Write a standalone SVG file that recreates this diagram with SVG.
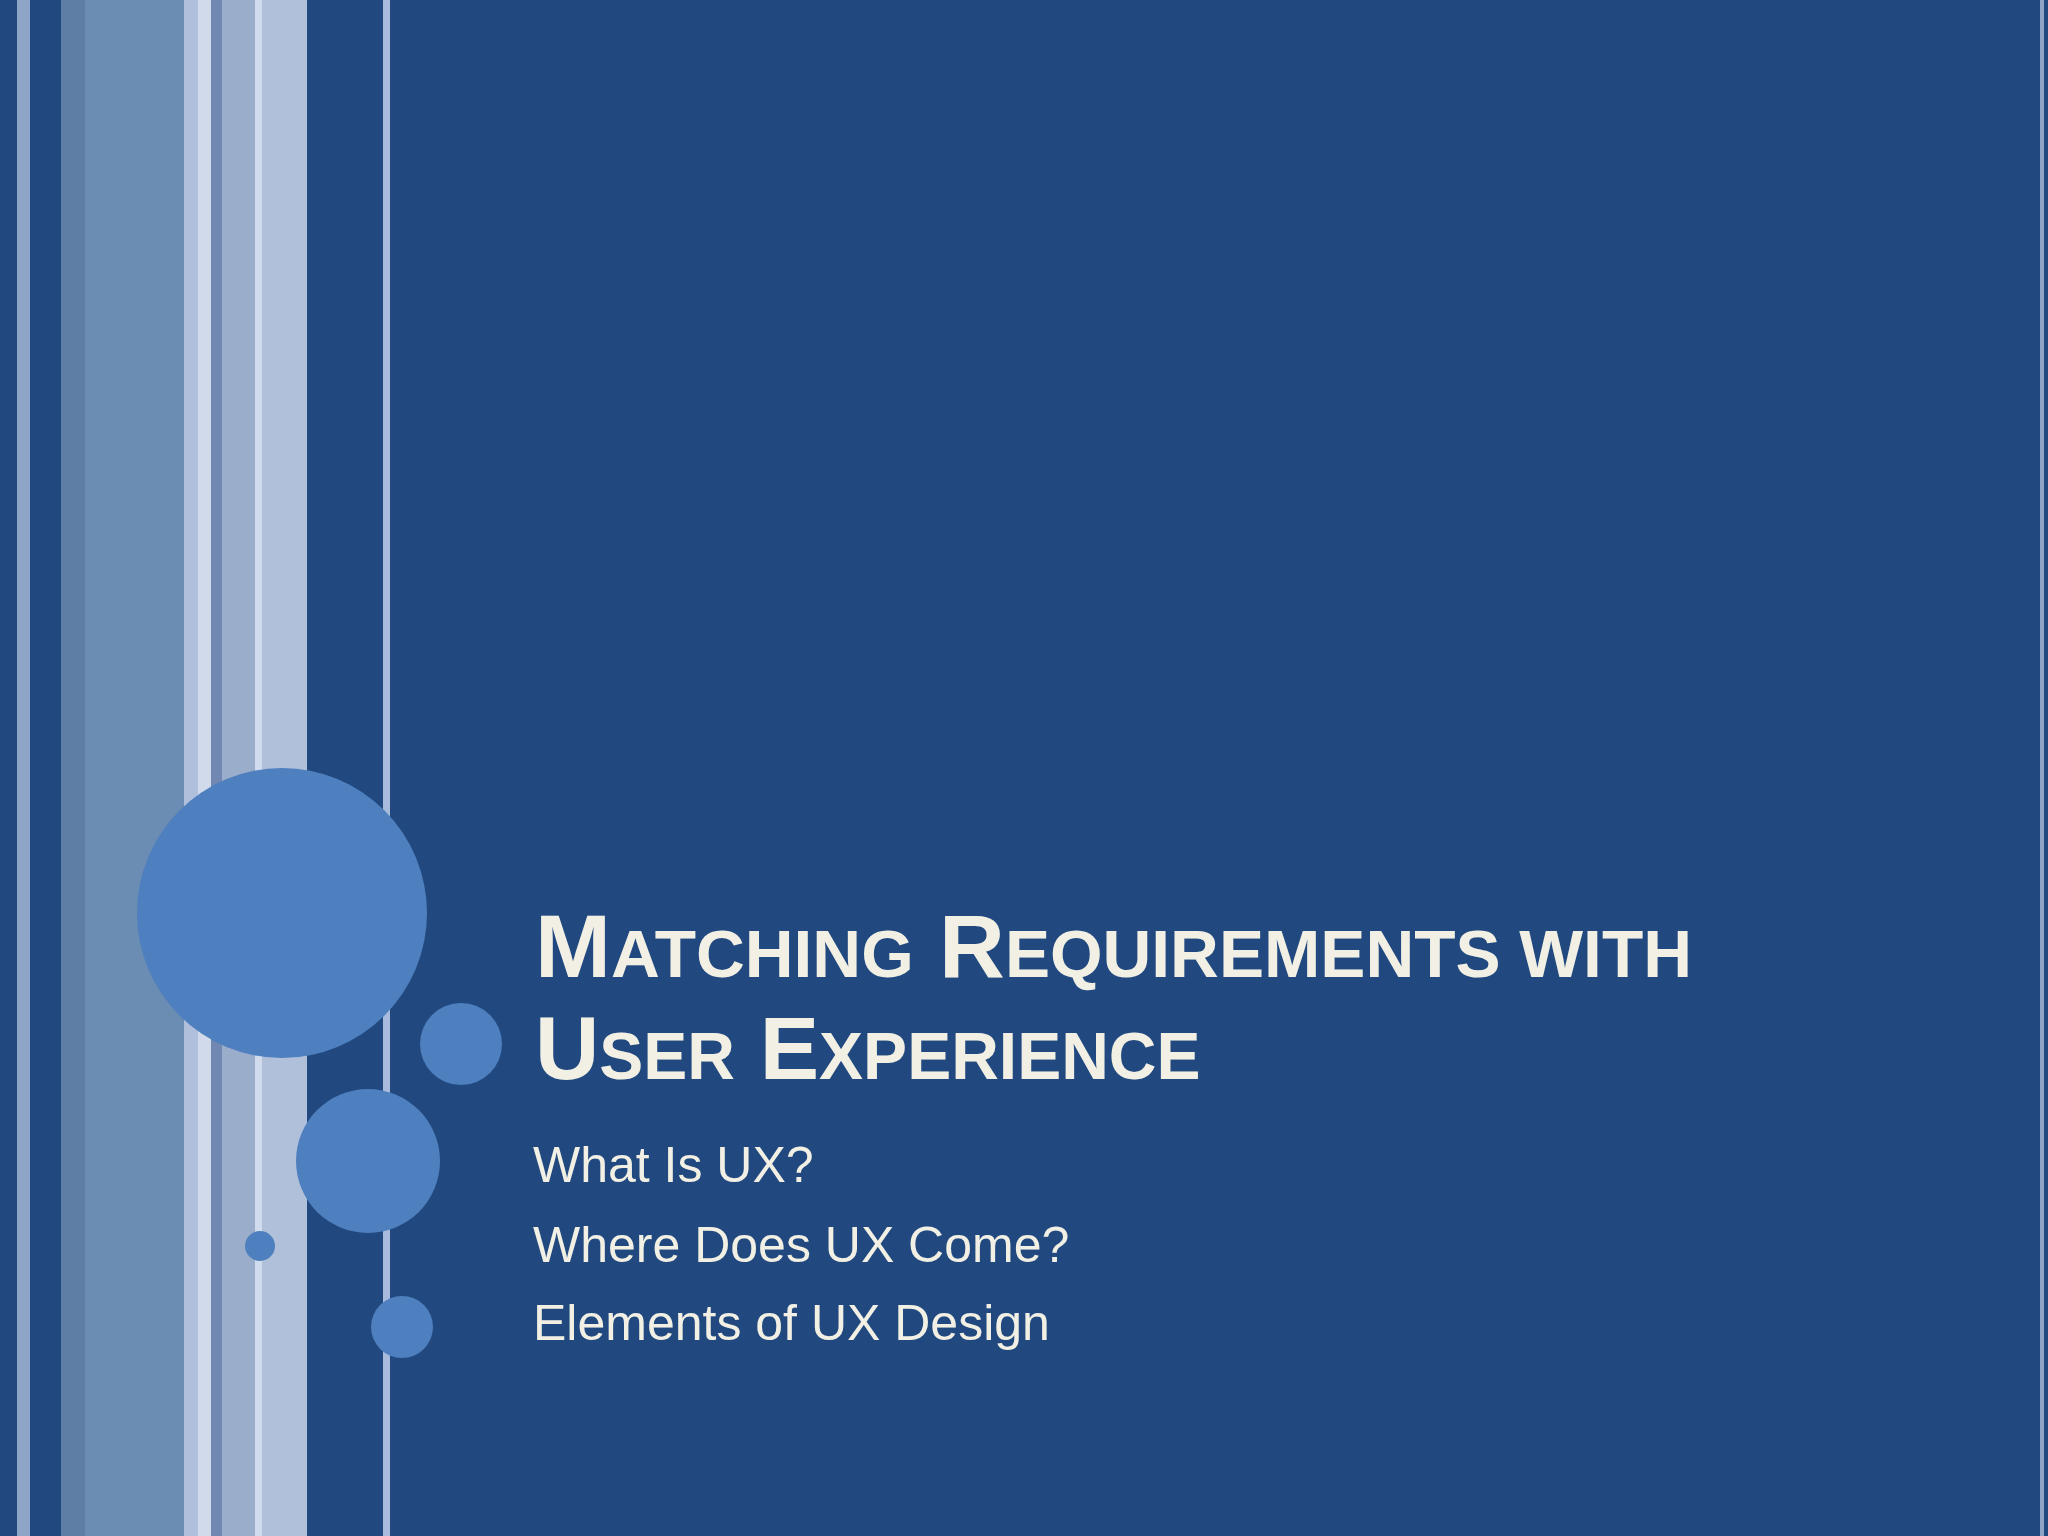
<svg xmlns="http://www.w3.org/2000/svg" width="2048" height="1536" viewBox="0 0 2048 1536">
<style>
.t{font-family:"Liberation Sans",Arial,sans-serif;font-weight:bold;fill:#f2f0e4}
.s{font-family:"Liberation Sans",Arial,sans-serif;fill:#f2f0e4;font-size:50px}
.c{fill:#4e7fbe}
</style>
<rect width="2048" height="1536" fill="#21497f"/>
<g id="stripes">
<rect x="17" y="0" width="13" height="1536" fill="#8fa5c8"/>
<rect x="61" y="0" width="24" height="1536" fill="#5e7ea6"/>
<rect x="85" y="0" width="99" height="1536" fill="#6b8cb3"/>
<rect x="184" y="0" width="14" height="1536" fill="#b0c0dc"/>
<rect x="198" y="0" width="13" height="1536" fill="#d0daea"/>
<rect x="211" y="0" width="11" height="1536" fill="#7088b2"/>
<rect x="222" y="0" width="33" height="1536" fill="#9aaecb"/>
<rect x="255" y="0" width="7" height="1536" fill="#d0dcee"/>
<rect x="262" y="0" width="45" height="1536" fill="#b0c0da"/>
<rect x="383" y="0" width="7" height="1536" fill="#a8bbdc"/>
<rect x="2040" y="0" width="4" height="1536" fill="#8fa5c8"/>
</g>
<g id="circles">
<circle class="c" cx="282" cy="913" r="145"/>
<circle class="c" cx="461" cy="1044" r="41"/>
<circle class="c" cx="368" cy="1161" r="72"/>
<circle class="c" cx="260" cy="1246" r="15"/>
<circle class="c" cx="402" cy="1327" r="31"/>
</g>
<g id="title">
<text class="t" x="535" y="977" font-size="89" textLength="1157" lengthAdjust="spacingAndGlyphs">M<tspan font-size="66">ATCHING</tspan> R<tspan font-size="66">EQUIREMENTS WITH</tspan></text>
<text class="t" x="535" y="1079" font-size="89">U<tspan font-size="66">SER</tspan> E<tspan font-size="66">XPERIENCE</tspan></text>
</g>
<g id="subtitle">
<text class="s" x="533" y="1182">What Is UX?</text>
<text class="s" x="533" y="1262">Where Does UX Come?</text>
<text class="s" x="533" y="1340">Elements of UX Design</text>
</g>
</svg>
